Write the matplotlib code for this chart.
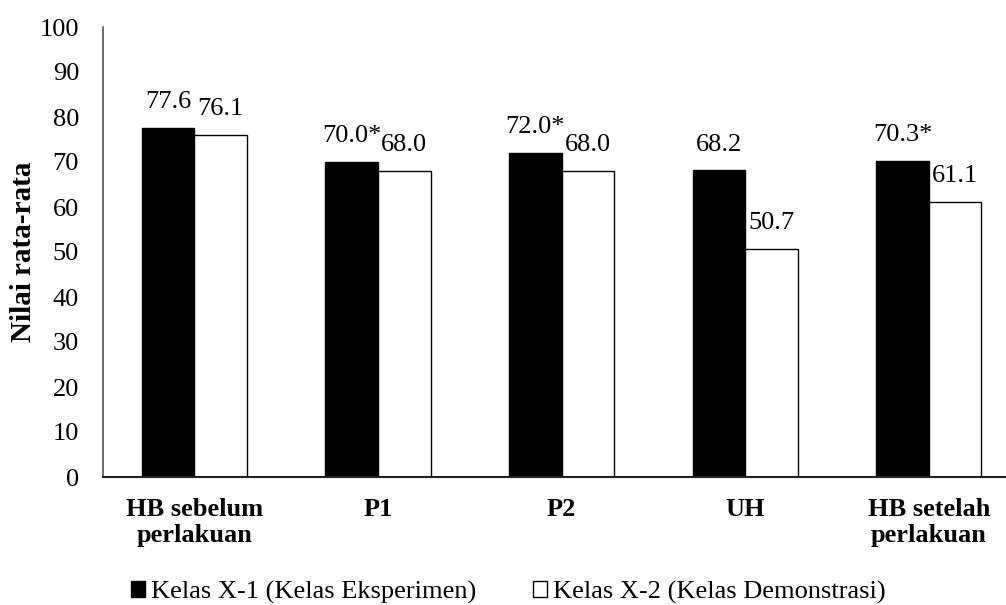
import matplotlib
matplotlib.use("Agg")
import matplotlib.pyplot as plt
import numpy as np

categories = ["HB sebelum\nperlakuan", "P1", "P2", "UH", "HB setelah\nperlakuan"]
kelas_x1 = [77.6, 70.0, 72.0, 68.2, 70.3]
kelas_x2 = [76.1, 68.0, 68.0, 50.7, 61.1]
labels_x1 = ["77.6", "70.0*", "72.0*", "68.2", "70.3*"]
labels_x2 = ["76.1", "68.0", "68.0", "50.7", "61.1"]
series_names = ["Kelas X-1 (Kelas Eksperimen)", "Kelas X-2 (Kelas Demonstrasi)"]
yticks = [0, 10, 20, 30, 40, 50, 60, 70, 80, 90, 100]

plt.rcParams['font.family'] = ['Liberation Serif', 'DejaVu Serif']

fig = plt.figure(figsize=(10.06, 6.05), dpi=100)
ax = fig.add_axes([0.102, 1 - 477/605, 0.9125, 450/605])

x = np.arange(len(categories))
w = 0.286
b1 = ax.bar(x - w/2, kelas_x1, w, color="black", edgecolor="black", linewidth=1, label=series_names[0])
b2 = ax.bar(x + w/2, kelas_x2, w, color="white", edgecolor="black", linewidth=1, label=series_names[1])

for rect, lab in zip(b1, labels_x1):
    ax.annotate(lab, (rect.get_x() + rect.get_width()/2, rect.get_height()),
                xytext=(0, 10.5), textcoords="offset points", ha="center", va="bottom", fontsize=19)
for rect, lab in zip(b2, labels_x2):
    ax.annotate(lab, (rect.get_x() + rect.get_width()/2, rect.get_height()),
                xytext=(0, 10.5), textcoords="offset points", ha="center", va="bottom", fontsize=19)

ax.set_xlim(-0.5, len(categories) - 0.5)
ax.set_ylim(0, 100)
ax.set_yticks(yticks)
ax.set_yticklabels([str(t) for t in yticks], fontsize=19)
ax.set_xticks(x)
ax.set_xticklabels(categories, fontsize=19, fontweight="bold", linespacing=1.2)
ax.tick_params(axis="x", length=0, pad=15)
ax.tick_params(axis="y", length=0, pad=17)
ax.set_ylabel("Nilai rata-rata", fontsize=21, fontweight="bold", labelpad=2)

for s in ["top", "right"]:
    ax.spines[s].set_visible(False)
ax.spines["left"].set_color("#555555")
ax.spines["left"].set_linewidth(1.2)
ax.spines["bottom"].set_color("#222222")
ax.spines["bottom"].set_linewidth(1.5)

fig.legend(handles=[b1, b2], loc="lower center", bbox_to_anchor=(0.505, -0.037),
           ncol=2, frameon=False, fontsize=19, handlelength=0.55, handleheight=0.55,
           handletextpad=0.2, columnspacing=2.16)

fig.savefig("out.png", dpi=100)
